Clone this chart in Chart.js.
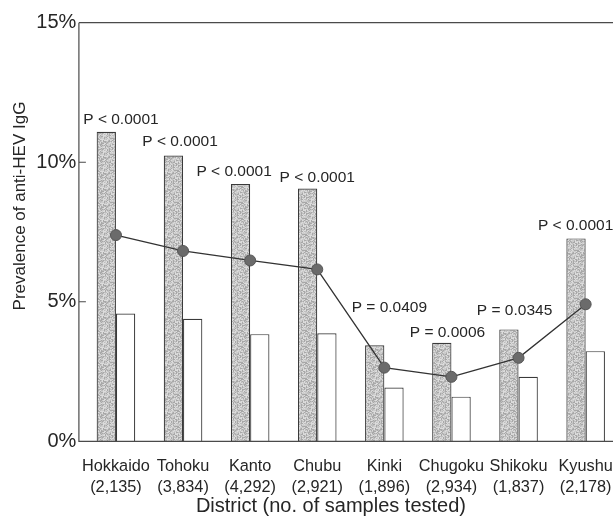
<!DOCTYPE html>
<html>
<head>
<meta charset="utf-8">
<script src="https://cdn.jsdelivr.net/npm/chart.js@4.4.0/dist/chart.umd.min.js"></script>
<style>
  html, body { margin: 0; padding: 0; background: #fff; overflow: hidden; }
  #wrap { width: 630px; height: 525px; }
</style>
</head>
<body>
<div id="wrap"><canvas id="c" width="630" height="525"></canvas></div>
<script>
// ---- data ----
const districts = ["Hokkaido", "Tohoku", "Kanto", "Chubu", "Kinki", "Chugoku", "Shikoku", "Kyushu"];
const sampleCounts = ["(2,135)", "(3,834)", "(4,292)", "(2,921)", "(1,896)", "(2,934)", "(1,837)", "(2,178)"];
const malePrevalence = [11.09, 10.24, 9.22, 9.06, 3.44, 3.53, 4.01, 7.27];
const femalePrevalence = [4.58, 4.39, 3.84, 3.87, 1.93, 1.60, 2.31, 3.23];
const overallPrevalence = [7.39, 6.82, 6.48, 6.16, 2.64, 2.31, 2.99, 4.91];
const pValueLabels = ["P < 0.0001", "P < 0.0001", "P < 0.0001", "P < 0.0001", "P = 0.0409", "P = 0.0006", "P = 0.0345", "P < 0.0001"];
const yTickValues = [0, 5, 10, 15];

// ---- styling / placement (not data) ----
const pLabelOffsets = [[5, -12.4], [-3, -13.6], [-16, -12.3], [0, -11], [5, -37.6], [-4, -10.4], [-4, -18.3], [-10, -12.6]];
const FONT = "'Liberation Sans', Arial, Helvetica, sans-serif";
const INK = '#262626';

// deterministic fine stipple texture for the grey bars (purely decorative)
function makeStipple() {
  const n = 16;
  const c = document.createElement('canvas');
  c.width = n; c.height = n;
  const g = c.getContext('2d');
  const img = g.createImageData(n, n);
  let s = 12345;
  for (let i = 0; i < n * n; i++) {
    s = (s * 1103515245 + 12345) & 0x7fffffff;
    const t = (s >> 16) % 4;
    const v = [168, 190, 204, 220][t];
    img.data[i * 4] = v; img.data[i * 4 + 1] = v; img.data[i * 4 + 2] = v; img.data[i * 4 + 3] = 255;
  }
  g.putImageData(img, 0, 0);
  return g.createPattern(c, 'repeat');
}

const framePlugin = {
  id: 'frame',
  afterDraw(chart) {
    const ctx = chart.ctx;
    const a = chart.chartArea;
    const y = chart.scales.y;
    const x = chart.scales.x;
    const axisX = a.left - 3.5;
    ctx.save();
    ctx.strokeStyle = '#4a4a4a';
    ctx.lineWidth = 1.2;
    ctx.beginPath();
    ctx.moveTo(axisX, a.top);
    ctx.lineTo(axisX, a.bottom);
    ctx.lineTo(chart.width, a.bottom);
    ctx.moveTo(axisX, a.top);
    ctx.lineTo(chart.width, a.top);
    yTickValues.forEach(v => {
      const py = y.getPixelForValue(v);
      ctx.moveTo(axisX, py);
      ctx.lineTo(axisX + 7, py);
    });
    ctx.stroke();

    // P-value annotations above the male bars
    ctx.fillStyle = INK;
    ctx.font = '15.5px ' + FONT;
    ctx.textAlign = 'center';
    ctx.textBaseline = 'middle';
    pValueLabels.forEach((t, i) => {
      const cx = x.getPixelForValue(i) + pLabelOffsets[i][0];
      const cy = y.getPixelForValue(malePrevalence[i]) + pLabelOffsets[i][1];
      ctx.fillText(t, cx, cy);
    });

    // axis titles
    ctx.font = '17px ' + FONT;
    ctx.save();
    ctx.translate(20, a.top + (a.bottom - a.top) * 0.438);
    ctx.rotate(-Math.PI / 2);
    ctx.fillText('Prevalence of anti-HEV IgG', 0, 0);
    ctx.restore();
    ctx.font = '20px ' + FONT;
    ctx.fillText('District (no. of samples tested)', a.left + (a.right - a.left) * 0.463, 506);
    ctx.restore();
  }
};

const stipple = makeStipple();

new Chart(document.getElementById('c'), {
  type: 'bar',
  data: {
    labels: districts.map((d, i) => [d, sampleCounts[i]]),
    datasets: [
      {
        type: 'line',
        label: 'Total',
        data: overallPrevalence,
        borderColor: '#333',
        borderWidth: 1.3,
        pointRadius: 5.5,
        pointBackgroundColor: '#6b6b6b',
        pointBorderColor: '#555',
        pointBorderWidth: 1,
        tension: 0,
        order: 0
      },
      {
        label: 'Male',
        data: malePrevalence,
        backgroundColor: stipple,
        borderColor: '#3a3a3a',
        borderWidth: 1.2,
        categoryPercentage: 0.575,
        barPercentage: 1.0,
        order: 1
      },
      {
        label: 'Female',
        data: femalePrevalence,
        backgroundColor: '#ffffff',
        borderColor: '#3a3a3a',
        borderWidth: 1.2,
        categoryPercentage: 0.575,
        barPercentage: 1.0,
        order: 1
      }
    ]
  },
  options: {
    responsive: false,
    animation: false,
    devicePixelRatio: 1,
    layout: { padding: { top: 22.7, right: 10.8, left: 0, bottom: 0 } },
    plugins: { legend: { display: false }, tooltip: { enabled: false } },
    scales: {
      x: {
        type: 'category',
        offset: true,
        grid: { display: false, drawTicks: false },
        border: { display: false },
        ticks: {
          color: INK,
          font: { family: FONT, size: 16.3, lineHeight: 1.33 },
          padding: 14,
          maxRotation: 0,
          autoSkip: false
        },
        afterFit(s) { s.height = 83.7; }
      },
      y: {
        min: 0,
        max: 15,
        grid: { display: false, drawTicks: false },
        border: { display: false },
        ticks: {
          stepSize: 5,
          color: INK,
          font: { family: FONT, size: 20 },
          padding: 6,
          callback: v => v + '%'
        },
        afterFit(s) { s.width = 82.4; }
      }
    }
  },
  plugins: [framePlugin]
});
</script>
</body>
</html>
